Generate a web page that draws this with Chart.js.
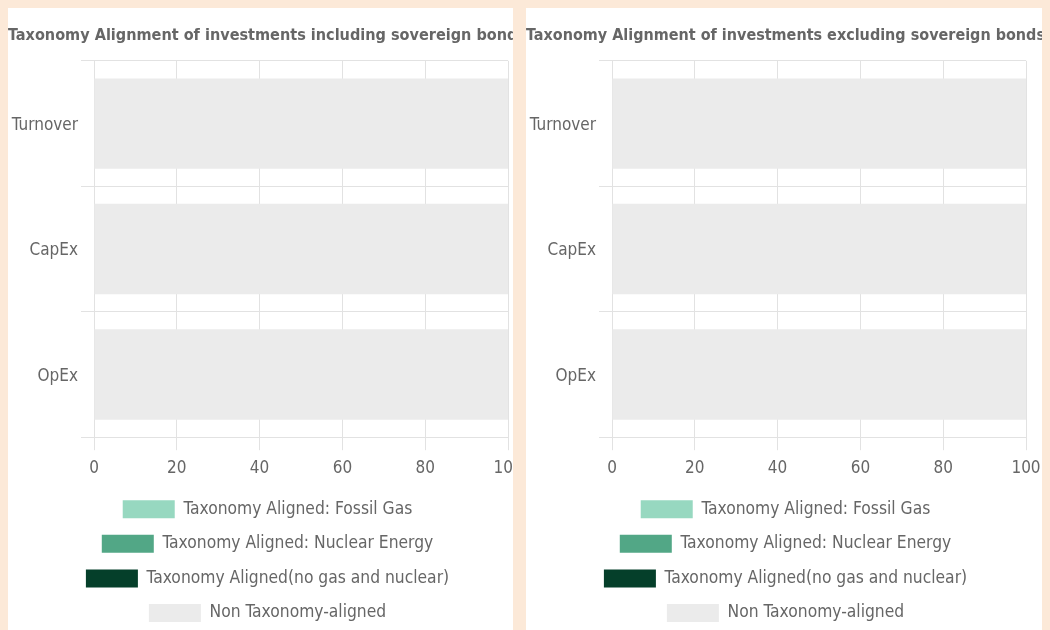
<!DOCTYPE html>
<html>
<head>
<meta charset="utf-8">
<script src="https://cdn.jsdelivr.net/npm/chart.js@4.4.1/dist/chart.umd.min.js"></script>
<style>
    body {
        margin: 0;
        width: 1050px;
        height: 630px;
        overflow: hidden;
        background: #fce9d8;
    }
    .panel {
        position: absolute;
        top: 8px;
        height: 622px;
        background: #fff;
        overflow: hidden;
    }
    #panelIncl { left: 8px; width: 505px; }
    #panelExcl { left: 526px; width: 516px; }
    canvas { display: block; }
</style>
</head>
<body>
<div class="panel" id="panelIncl"><canvas id="chartIncl" width="519" height="624"></canvas></div>
<div class="panel" id="panelExcl"><canvas id="chartExcl" width="519" height="624"></canvas></div>

<script>
const categories = ['Turnover', 'CapEx', 'OpEx'];
const xTicks = [0, 20, 40, 60, 80, 100];

const seriesNames = [
    'Taxonomy Aligned: Fossil Gas',
    'Taxonomy Aligned: Nuclear Energy',
    'Taxonomy Aligned(no gas and nuclear)',
    'Non Taxonomy-aligned',
];
const seriesColors = ['#97d8c0', '#52a786', '#053f2a', '#ebebeb'];

// values per series, in category order
const inclFossilGas = [0, 0, 0];
const inclNuclear = [0, 0, 0];
const inclAligned = [0, 0, 0];
const inclNonAligned = [100, 100, 100];

const exclFossilGas = [0, 0, 0];
const exclNuclear = [0, 0, 0];
const exclAligned = [0, 0, 0];
const exclNonAligned = [100, 100, 100];

const FONT = "'DejaVu Sans Condensed', 'DejaVu Sans', sans-serif";
const TEXT = '#666666';
const GRID = '#e2e2e2';

function buildChart(canvasId, title, values) {
    const el = document.getElementById(canvasId);
    if (!el) {
        return;
    }

    new Chart(el.getContext('2d'), {
        type: 'bar',
        data: {
            labels: categories,
            datasets: seriesNames.map((name, i) => ({
                label: name,
                data: values[i],
                backgroundColor: seriesColors[i],
                borderColor: seriesColors[i],
                borderWidth: 0,
            })),
        },
        options: {
            indexAxis: 'y',
            responsive: false,
            animation: false,
            layout: { padding: { top: 8, right: 0, left: 0, bottom: 0 } },
            scales: {
                x: {
                    stacked: true,
                    min: 0,
                    max: 100,
                    afterBuildTicks: (scale) => {
                        scale.ticks = xTicks.map(v => ({ value: v }));
                    },
                    // keep the plot narrower than the title, and pull the legend up a bit
                    afterFit: (scale) => {
                        scale.paddingRight = 19;
                        scale.height -= 3;
                    },
                    grid: { color: GRID, tickLength: 13 },
                    border: { color: GRID },
                    ticks: { color: TEXT, padding: 8, font: { family: FONT, size: 17 } },
                },
                y: {
                    stacked: true,
                    afterFit: (scale) => { scale.width = 86; },
                    grid: { color: GRID, tickLength: 13 },
                    border: { color: GRID },
                    ticks: { color: TEXT, padding: 3, labelOffset: 2, font: { family: FONT, size: 17 } },
                },
            },
            plugins: {
                title: {
                    display: true,
                    text: title,
                    align: 'start',
                    color: TEXT,
                    padding: { top: 10, bottom: 15.5 },
                    font: { family: FONT, size: 16.1, weight: 'bold' },
                },
                legend: {
                    position: 'bottom',
                    labels: {
                        color: TEXT,
                        boxWidth: 52,
                        boxHeight: 18,
                        padding: 16.6,
                        font: { family: FONT, size: 17.3 },
                    },
                },
                tooltip: { enabled: false },
            },
        },
    });
}

buildChart('chartIncl', 'Taxonomy Alignment of investments including sovereign bonds',
    [inclFossilGas, inclNuclear, inclAligned, inclNonAligned]);
buildChart('chartExcl', 'Taxonomy Alignment of investments excluding sovereign bonds',
    [exclFossilGas, exclNuclear, exclAligned, exclNonAligned]);
</script>
</body>
</html>
